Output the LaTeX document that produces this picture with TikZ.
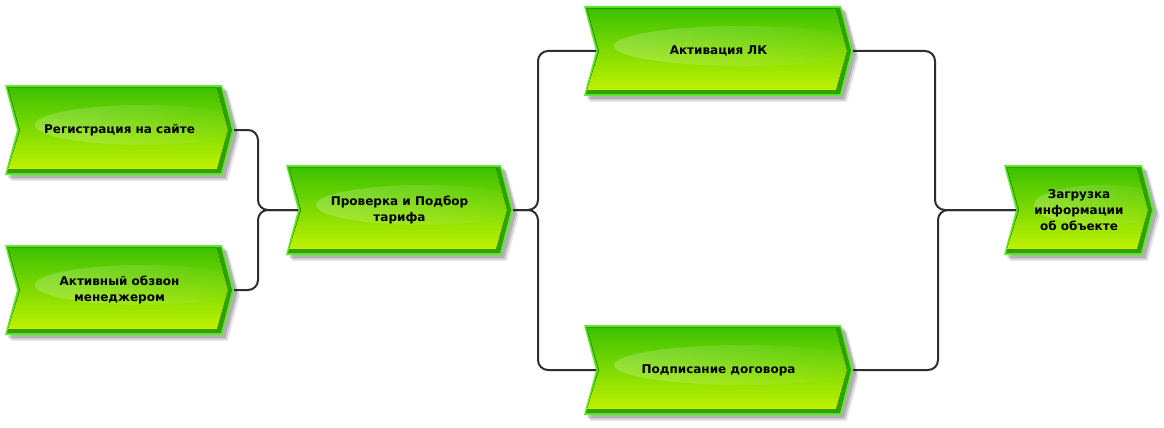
\documentclass[tikz,border=0pt]{standalone}
\usepackage{fontspec}
\setmainfont{DejaVu Sans}
\usetikzlibrary{fadings}
\definecolor{gtop}{RGB}{56,192,0}
\definecolor{gmid}{RGB}{112,216,0}
\definecolor{gbot}{RGB}{200,245,0}
\definecolor{gedge}{RGB}{95,232,45}
\definecolor{gdark}{RGB}{46,163,0}
\definecolor{conncol}{RGB}{45,45,45}
\tikzset{
  conn/.style={draw=conncol, line width=2pt, rounded corners=10pt},
  evlabel/.style={font=\fontsize{12}{16}\selectfont\bfseries, align=center, text=black, inner sep=0pt},
}
\newcommand\ev[6]{%
  \pgfmathsetmacro\evM{(#3+#5)/2}%
  \foreach \o/\op in {6/0.08,4.5/0.12,3/0.14}{%
    \fill[black,fill opacity=\op] (#2+\o,#3+\o) -- (#4+\o,#3+\o) -- (#4+12+\o,\evM+\o) -- (#4+\o,#5+\o) -- (#2+\o,#5+\o) -- (#2+12+\o,\evM+\o) -- cycle;}%
  \fill[gedge] (#2,#3) -- (#4,#3) -- (#4+12,\evM) -- (#4,#5) -- (#2,#5) -- (#2+12,\evM) -- cycle;
  \fill[gdark] (#2+2,#3+2) -- (#4-1,#3+2) -- (#4+10,\evM) -- (#4-1,#5-2) -- (#2+2,#5-2) -- (#2+14,\evM) -- cycle;
  \begin{scope}
    \path[clip] (#2+3,#3+3) -- (#4-5,#3+3) -- (#4+6,\evM) -- (#4-5,#5-6) -- (#2+3,#5-6) -- (#2+15,\evM) -- cycle;
    \fill[top color=gtop, middle color=gmid, bottom color=gbot] (#2,#3) rectangle (#4+12,#5);
    \fill[white, fill opacity=0.22, path fading=east] ({(#2+#4)/2+30},#3+40) ellipse [x radius={(#4-#2)*0.5pt}, y radius=20pt];
  \end{scope}
  \node[evlabel] (#1) at ({(#2+#4+12)/2},\evM) {#6};
  \coordinate (#1-in) at (#2+12,\evM);
  \coordinate (#1-out) at (#4+12,\evM);
}
\begin{document}
\begin{tikzpicture}[x=1pt,y=-1pt]
  \useasboundingbox[fill=white] (0,0) rectangle (1164,428);
  \ev{reg}{5}{85}{222}{175}{Регистрация на сайте}
  \ev{call}{5}{245}{222}{335}{Активный обзвон\\менеджером}
  \ev{chk}{286}{165}{501}{255}{Проверка и Подбор\\тарифа}
  \ev{act}{584}{6}{841}{96}{Активация ЛК}
  \ev{sign}{584}{325}{841}{415}{Подписание договора}
  \ev{load}{1004}{165}{1142}{255}{Загрузка\\информации\\об объекте}
  \draw[conn] (reg-out) -- ++(24,0) |- (chk-in);
  \draw[conn] (call-out) -- ++(24,0) |- (chk-in);
  \draw[conn] (chk-out) -- ++(25,0) |- (act-in);
  \draw[conn] (chk-out) -- ++(25,0) |- (sign-in);
  \draw[conn] (act-out) -- ++(82,0) |- (load-in);
  \draw[conn] (sign-out) -- ++(85,0) |- (load-in);
\end{tikzpicture}
\end{document}
